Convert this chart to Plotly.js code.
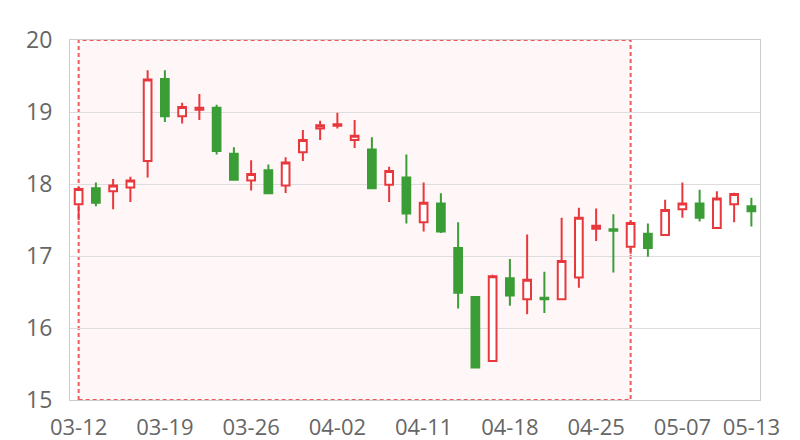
<!DOCTYPE html>
<html>
<head>
<meta charset="utf-8">
<script src="https://cdn.plot.ly/plotly-3.0.1.min.js"></script>
<style>html,body{margin:0;padding:0;background:#fff;}#chart{width:800px;height:440px;}</style>
</head>
<body>
<div id="chart"></div>
<script>
const dates = ["03-12","03-13","03-14","03-15","03-16","03-19","03-20","03-21","03-22","03-23",
  "03-26","03-27","03-28","03-29","03-30","04-02","04-03","04-04","04-09","04-10",
  "04-11","04-12","04-13","04-16","04-17","04-18","04-19","04-20","04-23","04-24",
  "04-25","04-26","04-27","05-02","05-03","05-07","05-08","05-09","05-10","05-13"];
const openP  = [17.72,17.94,17.90,17.95,18.32,19.46,18.94,19.03,19.06,18.42,
  18.05,18.19,17.98,18.44,18.77,18.81,18.61,18.48,17.99,18.09,
  17.47,17.73,17.11,16.43,15.54,16.69,16.40,16.42,16.40,16.70,
  17.38,17.37,17.13,17.31,17.29,17.65,17.73,17.39,17.72,17.69];
const closeP = [17.93,17.74,17.98,18.05,19.45,18.94,19.07,19.06,18.46,18.06,
  18.14,17.87,18.30,18.61,18.815,18.83,18.67,17.94,18.18,17.59,
  17.74,17.34,16.49,15.45,16.72,16.45,16.67,16.40,16.93,17.53,
  17.42,17.35,17.46,17.11,17.64,17.73,17.53,17.80,17.86,17.62];
const highP  = [17.96,18.02,18.07,18.10,19.58,19.58,19.13,19.25,19.10,18.51,
  18.33,18.27,18.37,18.75,18.88,18.99,18.89,18.65,18.24,18.41,
  18.02,17.87,17.47,16.43,16.74,16.96,17.30,16.78,17.53,17.67,
  17.66,17.58,17.49,17.45,17.78,18.02,17.92,17.90,17.88,17.81];
const lowP   = [17.50,17.69,17.65,17.75,18.09,18.86,18.84,18.89,18.41,18.05,
  17.91,17.87,17.875,18.32,18.61,18.77,18.50,17.94,17.75,17.45,
  17.34,17.32,16.27,15.45,15.54,16.31,16.19,16.21,16.39,16.56,
  17.21,16.77,17.03,16.99,17.28,17.53,17.48,17.39,17.47,17.41];
const tickLabels = ["03-12","03-19","03-26","04-02","04-11","04-18","04-25","05-07","05-13"];
const zoneStart = dates[0];
const zoneEnd = dates[32];

const trace = {
  type: 'candlestick',
  x: dates, open: openP, close: closeP, high: highP, low: lowP,
  increasing: {line: {color: '#e8383d', width: 2}, fillcolor: '#ffffff'},
  decreasing: {line: {color: '#3a9d35', width: 2}, fillcolor: '#3a9d35'},
  whiskerwidth: 0,
  hoverinfo: 'skip'
};

const layout = {
  width: 800, height: 440,
  margin: {l: 70, r: 40, t: 40, b: 40},
  paper_bgcolor: '#ffffff', plot_bgcolor: '#ffffff',
  showlegend: false,
  boxgap: 0.36,
  font: {family: '"Open Sans", "Noto Sans", sans-serif', color: '#666666'},
  xaxis: {
    type: 'category', categoryorder: 'array', categoryarray: dates,
    range: [-0.5, dates.length - 0.5],
    rangeslider: {visible: false},
    tickmode: 'array', tickvals: tickLabels, ticktext: tickLabels,
    showgrid: false, zeroline: false,
    showline: true, linecolor: '#cccccc', linewidth: 1, mirror: true,
    ticks: '', ticklabelstandoff: 8, tickfont: {size: 22, color: '#666666'}
  },
  yaxis: {
    range: [15, 20], tickvals: [15,16,17,18,19,20],
    showgrid: true, gridcolor: '#dddddd', gridwidth: 1, zeroline: false,
    showline: true, linecolor: '#cccccc', linewidth: 1, mirror: true,
    ticks: '', ticklen: 0, ticklabelstandoff: 12, tickfont: {size: 23, color: '#666666'}
  },
  shapes: [{
    type: 'rect', xref: 'x', yref: 'y',
    x0: zoneStart, x1: zoneEnd, y0: 15, y1: 20,
    fillcolor: 'rgba(255,60,60,0.04)',
    line: {color: '#ef5a5f', width: 2, dash: '4px,3px'},
    layer: 'below'
  }]
};

Plotly.newPlot('chart', [trace], layout, {displayModeBar: false, staticPlot: true});
</script>
</body>
</html>
